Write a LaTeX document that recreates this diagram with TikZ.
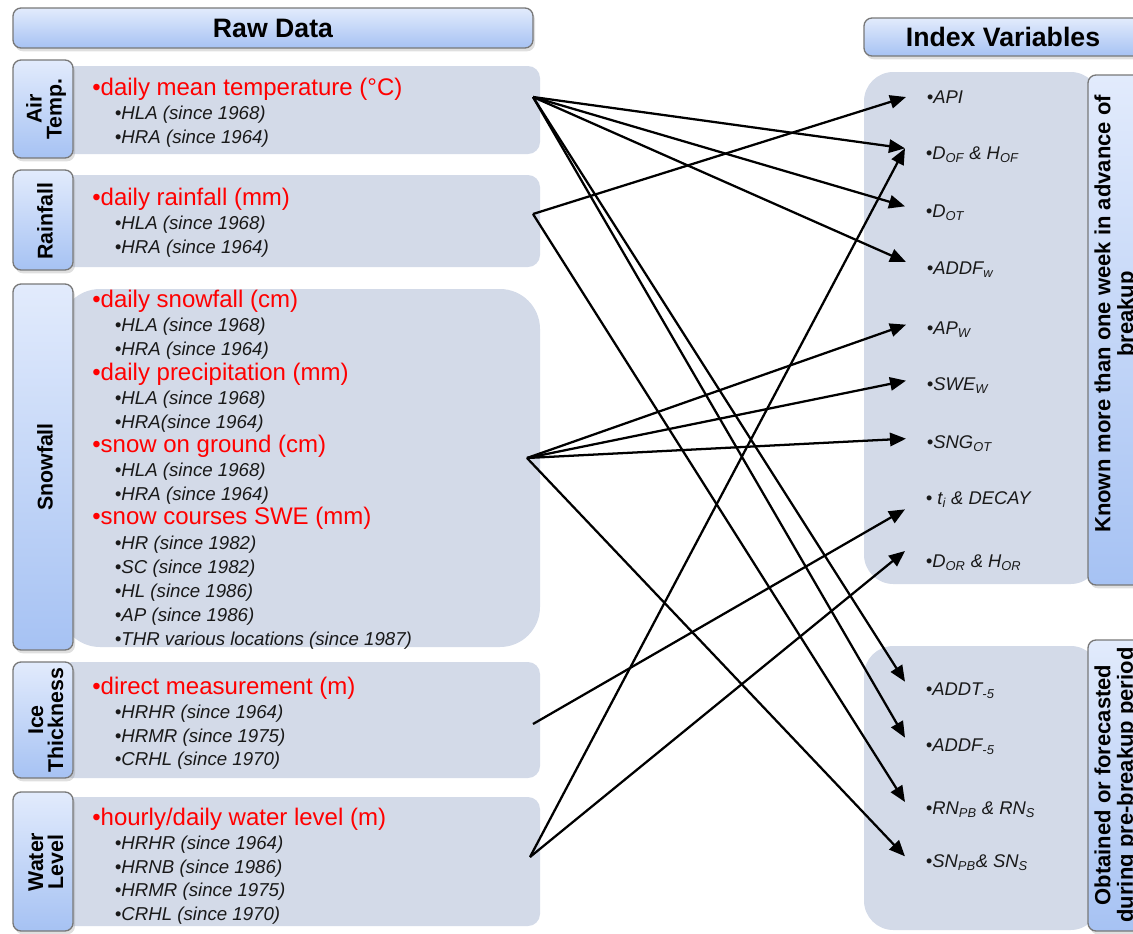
\documentclass[tikz,border=0pt]{standalone}
\usepackage{fontspec}
\setmainfont{Liberation Sans}
\usetikzlibrary{arrows.meta,shadows}
\definecolor{panelgray}{RGB}{211,218,232}
\definecolor{tabtop}{RGB}{226,235,252}
\definecolor{tabbottom}{RGB}{166,194,243}
\definecolor{tabline}{RGB}{120,120,120}
\definecolor{itemtext}{RGB}{25,25,25}
\newcommand{\meas}[1]{{\fontsize{18}{17.8}\selectfont\color{red}#1}}
\newcommand{\obs}[1]{\hspace*{17pt}{\fontsize{14}{17.8}\selectfont\itshape #1}}
\tikzset{
	tab/.style={draw=tabline, line width=1pt, rounded corners=6pt,
		top color=tabtop, bottom color=tabbottom,
		drop shadow={opacity=0.25, shadow xshift=1.5pt, shadow yshift=-2.5pt}},
	panel/.style={fill=panelgray},
	headtext/.style={font=\bfseries\fontsize{20}{24}\selectfont},
	vlabel/.style={rotate=90, align=center, font=\bfseries\fontsize{16}{15}\selectfont},
	rawtext/.style={anchor=north west, align=left, inner sep=0pt, text=itemtext,
		font=\fontsize{14}{17.8}\selectfont},
	idx/.style={anchor=west, inner xsep=15.5pt, inner ysep=0pt, text=itemtext,
		font=\itshape\fontsize{13.8}{16}\selectfont},
	link/.style={line width=1.7pt, -{Triangle[length=12pt,width=10pt]}}
}

\begin{document}
\begin{tikzpicture}[x=0.75pt,y=-0.75pt]
	\useasboundingbox (0,0) rectangle (1133,933);
	\clip (0,0) rectangle (1133,933);

	% raw data side
	\fill[panel, rounded corners=9pt] (60,66) rectangle (540,154);
	\fill[panel, rounded corners=9pt] (60,175) rectangle (540,267);
	\fill[panel, rounded corners=30pt] (60,289) rectangle (540,647);
	\fill[panel, rounded corners=9pt] (60,662) rectangle (540,778);
	\fill[panel, rounded corners=9pt] (60,797) rectangle (540,926);

	\draw[tab] (13,8) rectangle (533,48);
	\node[headtext] (rawhead) at (273,28) {Raw Data};

	\draw[tab] (13,60) rectangle (73,158);
	\draw[tab] (13,170) rectangle (73,270);
	\draw[tab] (13,284) rectangle (73,650);
	\draw[tab] (13,662) rectangle (73,778);
	\draw[tab] (13,792) rectangle (73,931);

	\node[vlabel] (airlab) at (46,109) {Air\\Temp.};
	\node[vlabel] (rainlab) at (45,221) {Rainfall};
	\node[vlabel] (snowlab) at (45,467) {Snowfall};
	\node[vlabel] (icelab) at (46,720) {Ice\\Thickness};
	\node[vlabel] (waterlab) at (46,862) {Water\\Level};

	\node[rawtext] (airtxt) at (92,78) {\meas{•daily mean temperature (°C)}\\
		\obs{•HLA (since 1968)}\\
		\obs{•HRA (since 1964)}};
	\node[rawtext] (raintxt) at (92,188) {\meas{•daily rainfall (mm)}\\
		\obs{•HLA (since 1968)}\\
		\obs{•HRA (since 1964)}};
	\node[rawtext, font=\fontsize{14}{18.1}\selectfont] (snowtxt) at (92,290) {\meas{•daily snowfall (cm)}\\
		\obs{•HLA (since 1968)}\\
		\obs{•HRA (since 1964)}\\
		\meas{•daily precipitation (mm)}\\
		\obs{•HLA (since 1968)}\\
		\obs{•HRA(since 1964)}\\
		\meas{•snow on ground (cm)}\\
		\obs{•HLA (since 1968)}\\
		\obs{•HRA (since 1964)}\\
		\meas{•snow courses SWE (mm)}\\
		\obs{•HR (since 1982)}\\
		\obs{•SC (since 1982)}\\
		\obs{•HL (since 1986)}\\
		\obs{•AP (since 1986)}\\
		\obs{•THR various locations (since 1987)}};
	\node[rawtext] (icetxt) at (92,677) {\meas{•direct measurement (m)}\\
		\obs{•HRHR (since 1964)}\\
		\obs{•HRMR (since 1975)}\\
		\obs{•CRHL (since 1970)}};
	\node[rawtext] (watertxt) at (92,808) {\meas{•hourly/daily water level (m)}\\
		\obs{•HRHR (since 1964)}\\
		\obs{•HRNB (since 1986)}\\
		\obs{•HRMR (since 1975)}\\
		\obs{•CRHL (since 1970)}};

	\coordinate (airout) at (533,97);
	\coordinate (rainout) at (533,214);
	\coordinate (snowout) at (527,458);
	\coordinate (iceout) at (533,724);
	\coordinate (waterout) at (530,857);

	% index variable side
	\fill[panel, rounded corners=22pt] (864,72) rectangle (1100,584);
	\fill[panel, rounded corners=22pt] (864,646) rectangle (1100,930);

	\draw[tab] (864,18) rectangle (1145,56);
	\node[headtext] (idxhead) at (1003,37) {Index Variables};

	\draw[tab] (1088,75) rectangle (1145,585);
	\draw[tab] (1088,640) rectangle (1145,931);
	\node[vlabel, font=\bfseries\fontsize{16.5}{17}\selectfont] (earlylab) at (1116,314)
		{Known more than one week in advance of\\breakup};
	\node[vlabel, font=\bfseries\fontsize{16.5}{17}\selectfont] (prelab) at (1116,785)
		{Obtained or forecasted\\during pre-breakup period};

	\node[idx] (api) at (906,97) {•API};
	\node[idx] (dof) at (905,155) {•D\textsubscript{OF} \& H\textsubscript{OF}};
	\node[idx] (dot) at (905,213) {•D\textsubscript{OT}};
	\node[idx] (addfw) at (906,270) {•ADDF\textsubscript{w}};
	\node[idx] (apw) at (906,330) {•AP\textsubscript{W}};
	\node[idx] (swew) at (906,386) {•SWE\textsubscript{W}};
	\node[idx] (sngot) at (906,444) {•SNG\textsubscript{OT}};
	\node[idx] (decay) at (905,500) {• t\textsubscript{i} \& DECAY};
	\node[idx] (dor) at (905,563) {•D\textsubscript{OR} \& H\textsubscript{OR}};
	\node[idx] (addt) at (905,691) {•ADDT\textsubscript{-5}};
	\node[idx] (addf) at (905,747) {•ADDF\textsubscript{-5}};
	\node[idx] (rn) at (905,810) {•RN\textsubscript{PB} \& RN\textsubscript{S}};
	\node[idx] (sn) at (905,863) {•SN\textsubscript{PB}\& SN\textsubscript{S}};

	% links
	\draw[link] (airout) -- ([yshift=5pt]dof.west);
	\draw[link] (airout) -- ([yshift=5pt]dot.west);
	\draw[link] (airout) -- ([yshift=6pt]addfw.west);
	\draw[link] (airout) -- ([yshift=7pt]addt.west);
	\draw[link] (airout) -- ([yshift=7pt]addf.west);
	\draw[link] (rainout) -- (api.west);
	\draw[link] (rainout) -- ([yshift=6pt]rn.west);
	\draw[link] (snowout) -- ([yshift=4pt]apw.west);
	\draw[link] (snowout) -- ([yshift=4pt]swew.west);
	\draw[link] (snowout) -- ([yshift=4pt]sngot.west);
	\draw[link] (snowout) -- ([yshift=5pt]sn.west);
	\draw[link] (iceout) -- ([yshift=-7pt]decay.west);
	\draw[link] (waterout) -- ([yshift=5pt]dof.west);
	\draw[link] (waterout) -- ([yshift=9pt]dor.west);
\end{tikzpicture}
\end{document}
